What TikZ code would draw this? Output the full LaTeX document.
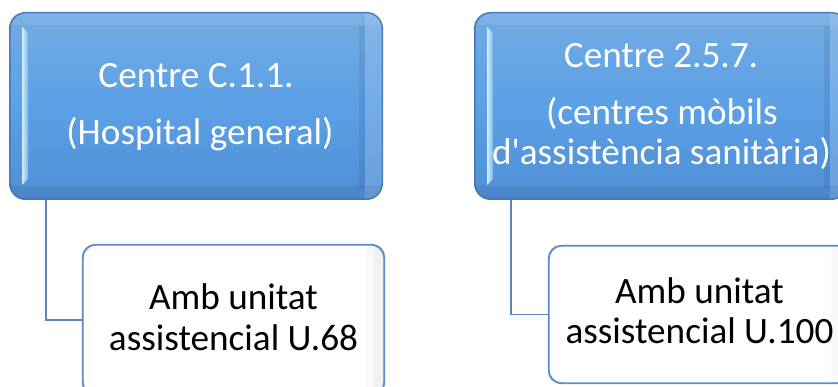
\documentclass[tikz,border=0pt]{standalone}
\usepackage{fontspec}
\setmainfont{Carlito}[Ligatures=TeXOff]
\definecolor{bluetop}{HTML}{72ABE3}
\definecolor{bluemid}{HTML}{5CA0E5}
\definecolor{bluebot}{HTML}{4F8FD5}
\definecolor{blueedge}{HTML}{4679B5}
\definecolor{bevlight}{HTML}{D2F2FF}
\definecolor{whiteedge}{HTML}{5E8CC6}
\definecolor{connblue}{HTML}{5A86BC}
\tikzset{
  bluebox/.style={rectangle, rounded corners=16pt, minimum width=372pt, minimum height=186pt,
    draw=blueedge, line width=1pt, top color=bluetop, bottom color=bluebot, middle color=bluemid, inner sep=0pt},
  whitebox/.style={rectangle, rounded corners=13pt, minimum width=301pt,
    draw=whiteedge, line width=1.2pt, fill=white, inner sep=0pt},
  conn/.style={draw=connblue, line width=1.7pt},
  btext/.style={text=white, font=\fontsize{37.2}{40}\selectfont, anchor=base, inner sep=0pt},
  wtext/.style={text=black, font=\fontsize{37.2}{40}\selectfont, anchor=base, inner sep=0pt},
}
\begin{document}
\begin{tikzpicture}[x=1pt,y=-1pt]
\useasboundingbox (0,0) rectangle (838,387);
\clip (0,0) rectangle (838,387);
\fill[white] (0,0) rectangle (838,387);
\node[bluebox] (b1) at (196,106) {};
\node[bluebox] (b2) at (661,106) {};
\node[whitebox, minimum height=150pt] (w1) at (233.5,320) {};
\node[whitebox, minimum height=137pt] (w2) at (699.5,314.5) {};
\draw[conn] ([xshift=36.7pt]b1.south west) |- (w1.west);
\draw[conn] ([xshift=36.5pt]b2.south west) |- (w2.west);
% subtle grey sheen at the right inside edge of the white boxes
\foreach \wx/\wt/\wb in {83/245/395, 549/246/383}{
  \begin{scope}
    \clip[rounded corners=13pt] (\wx,\wt) rectangle (\wx+301,\wb);
    \fill[black, opacity=.025] (\wx+282,\wt) rectangle (\wx+301,\wb);
    \fill[black, opacity=.03] (\wx+291,\wt) rectangle (\wx+301,\wb);
  \end{scope}
}
\draw[whiteedge, line width=1.2pt, rounded corners=13pt] (w1.south west) rectangle (w1.north east);
\draw[whiteedge, line width=1.2pt, rounded corners=13pt] (w2.south west) rectangle (w2.north east);
% bevel effects
\foreach \bx in {10,475}{
  \begin{scope}
    \clip[rounded corners=16pt] (\bx,13) rectangle (\bx+372,199);
    \fill[white, opacity=.08] (\bx,13) rectangle (\bx+372,25);
    \fill[black, opacity=.06] (\bx,186) rectangle (\bx+372,199);
    \fill[black, opacity=.07] (\bx+349,26) rectangle (\bx+355,188);
    \fill[white, opacity=.14] (\bx+355,13) rectangle (\bx+372,199);
    \shade[left color=bevlight, right color=bluemid!75!bevlight]
      (\bx+12,27) -- (\bx+18,33) -- (\bx+18,179) -- (\bx+12,185) -- cycle;
  \end{scope}
}
\draw[blueedge, line width=1pt, rounded corners=16pt] (b1.south west) rectangle (b1.north east);
\draw[blueedge, line width=1pt, rounded corners=16pt] (b2.south west) rectangle (b2.north east);
% texts
\node[btext] (t1a) at (196,88) {Centre C.1.1.};
\node[btext] (t1b) at (200,145) {(Hospital general)};
\node[btext] (t2a) at (661,68) {Centre 2.5.7.};
\node[btext] (t2b) at (662,125) {(centres mòbils};
\node[btext] (t2c) at (661.5,165) {d'assistència sanitària)};
\node[wtext] (u1a) at (233.5,310) {Amb unitat};
\node[wtext] (u1b) at (233.5,350) {assistencial U.68};
\node[wtext] (u2a) at (699.5,303.3) {Amb unitat};
\node[wtext] (u2b) at (699.5,343.3) {assistencial U.100};
\end{tikzpicture}
\end{document}
